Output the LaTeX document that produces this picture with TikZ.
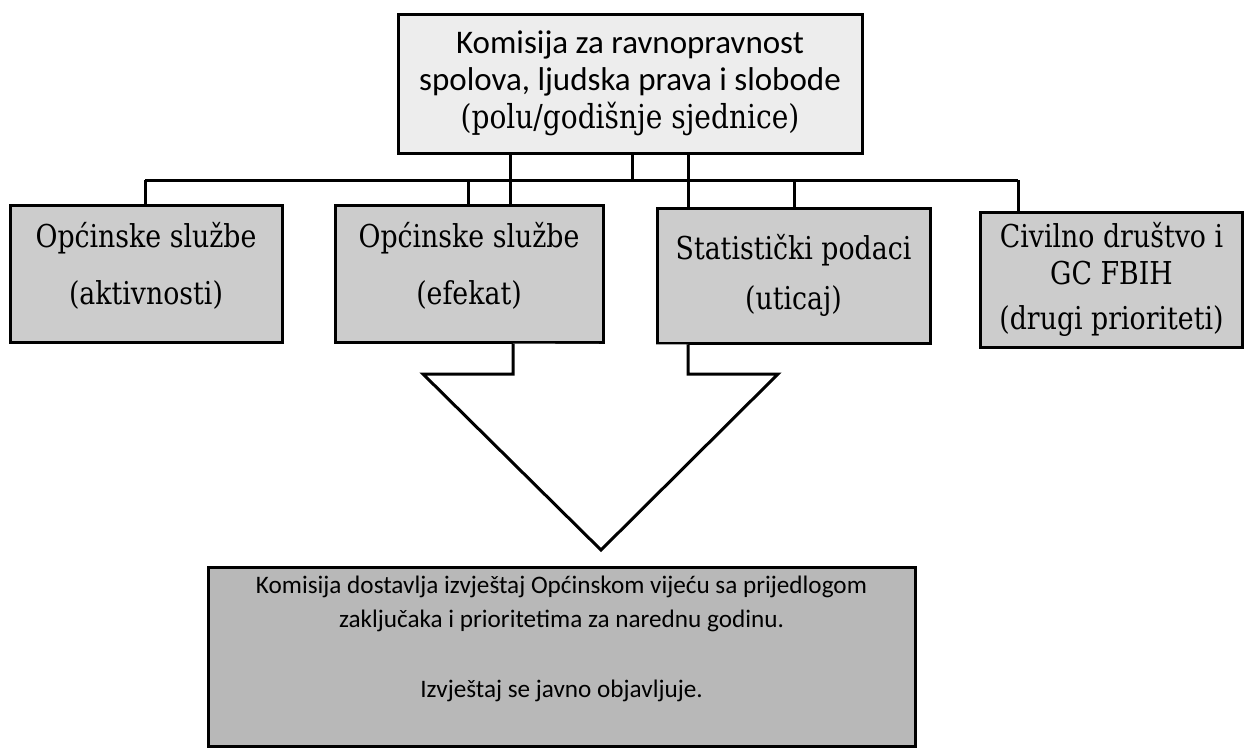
\documentclass[tikz,border=0pt]{standalone}
\usepackage{fontspec}
\setmainfont{Carlito}
\newfontfamily\cserif[FakeStretch=0.85]{DejaVu Serif}
\begin{document}
\begin{tikzpicture}[x=1pt,y=-1pt]
\useasboundingbox (0,0) rectangle (1246,753);
\tikzset{
  bx/.style={draw=black, line width=3pt, inner sep=0pt, align=center},
  topbox/.style={bx, fill=black!7},
  midbox/.style={bx, fill=black!20, font=\cserif\fontsize{31.5}{40}\selectfont},
  botbox/.style={bx, fill=black!28, font=\fontsize{25.2}{34}\selectfont},
  conn/.style={draw=black, line width=3pt},
  arrowshape/.style={draw=black, line width=3pt, fill=white, line join=miter}
}
% boxes
\node[topbox, minimum width=464, minimum height=139, font=\fontsize{33}{37}\selectfont] (top) at (630,83.5)
  {Komisija za ravnopravnost\\spolova, ljudska prava i slobode\\[1pt]{\cserif\fontsize{33}{37}\selectfont (polu/godišnje sjednice)}};
\node[midbox, minimum width=272, minimum height=137] (b1) at (146,273.5)
  {Općinske službe\\[17pt](aktivnosti)\\[-20pt]\mbox{}};
\node[midbox, minimum width=268, minimum height=137] (b2) at (469,273.5)
  {Općinske službe\\[17pt](efekat)\\[-20pt]\mbox{}};
\node[midbox, minimum width=273, minimum height=135] (b3) at (793.5,275.5)
  {Statistički podaci\\[10pt](uticaj)};
\node[midbox, minimum width=262, minimum height=135, font=\cserif\fontsize{31.5}{37}\selectfont] (b4) at (1111.5,279.5)
  {Civilno društvo i\\GC FBIH\\[8pt](drugi prioriteti)};
\node[botbox, minimum width=707, minimum height=179] (bot) at (561.5,656.5)
  {Komisija dostavlja izvještaj Općinskom vijeću sa prijedlogom\\zaključaka i prioritetima za narednu godinu.\\[36pt]Izvještaj se javno objavljuje.\\[5pt]\mbox{}};
% bar coordinates
\coordinate (barL) at (145,180);
\coordinate (j2) at (468,180);
\coordinate (j3) at (510,180);
\coordinate (j4) at (632,180);
\coordinate (j5) at (688,180);
\coordinate (j6) at (794,180);
\coordinate (barR) at (1018,180);
% connectors
\draw[conn] (barL) -- (barR);
\draw[conn] (barL) -- (barL |- b1.north);
\draw[conn] (j2) -- (j2 |- b2.north);
\draw[conn] (j3 |- top.south) -- (j3 |- b2.north);
\draw[conn] (j4 |- top.south) -- (j4);
\draw[conn] (j5 |- top.south) -- (j5 |- b3.north);
\draw[conn] (j6) -- (j6 |- b3.north);
\draw[conn] (barR) -- (barR |- b4.north);
% block arrow
\coordinate (aL) at (513,374);
\coordinate (aLo) at (423,374);
\coordinate (tip) at (601,550);
\coordinate (aRo) at (778,374);
\coordinate (aR) at (688,374);
\draw[arrowshape] (aL |- b2.south) -- (aL) -- (aLo) -- (tip) -- (aRo) -- (aR) -- (aR |- b3.south);
\end{tikzpicture}
\end{document}
